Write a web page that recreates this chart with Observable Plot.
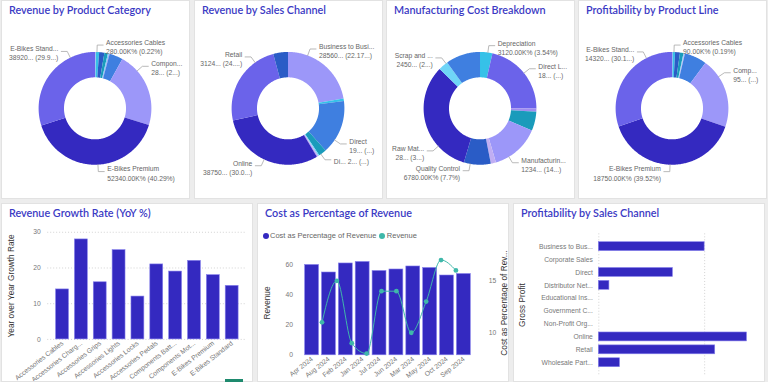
<!DOCTYPE html>
<html><head><meta charset="utf-8">
<script src="https://cdn.jsdelivr.net/npm/d3@7"></script>
<script src="https://cdn.jsdelivr.net/npm/@observablehq/plot@0.6"></script>
<style>
body{margin:0;width:768px;height:382px;background:#ededed;overflow:hidden;position:relative;font-family:"Liberation Sans",Arial,sans-serif}
.panel{position:absolute;background:#fff;border:1px solid #e2e2e2;box-sizing:border-box;overflow:hidden}
.panel svg{position:absolute;left:0;top:0}
.title{position:absolute;left:7px;top:2px;font-family:Lato,"Liberation Sans",sans-serif;font-size:10.8px;font-weight:600;color:#3b3ac4;white-space:nowrap;z-index:2;line-height:14px}
.ytitle{position:absolute;transform:translate(-50%,-50%) rotate(-90deg);font-size:8.3px;color:#333;white-space:nowrap;z-index:2}
.legend{position:absolute;font-size:7.5px;color:#666;white-space:nowrap;z-index:2;display:flex;align-items:center}
.legend i{display:inline-block;width:6px;height:6px;border-radius:50%;margin-right:1.5px}
</style></head><body>
<script>
// ---------- DATA ----------
const productCategories = ["Accessories Cables","Accessories Chargers","Accessories Grips","Accessories Lights","Accessories Locks","Accessories Pedals","Components Batteries","Components Motors","E-Bikes Premium","E-Bikes Standard"];
const productCategoryTicks = ["Accessories Cables","Accessories Charg...","Accessories Grips","Accessories Lights","Accessories Locks","Accessories Pedals","Components Batt...","Components Mot...","E-Bikes Premium","E-Bikes Standard"];
const revenueByCategory = [280,1250,1950,1300,400,250,5050,28250,52340,38920];
const profitByProductLine = [90,330,660,470,100,100,3030,9580,18750,14320];
const growthRateYoY = [14,28,16,25,12,21,19,22,18,15];

const salesChannels = ["Business to Business","Corporate Sales","Direct","Distributor Network","Educational Institutions","Government Contracts","Non-Profit Organizations","Online","Retail","Wholesale Partners"];
const salesChannelTicks = ["Business to Bus...","Corporate Sales","Direct","Distributor Net...","Educational Ins...","Government C...","Non-Profit Org...","Online","Retail","Wholesale Part..."];
const revenueByChannel = [28560,950,19950,2900,400,350,300,38750,31240,5420];
const grossProfitByChannel = [10000,0,7000,1000,0,0,0,14000,11000,2000];

const costCategories = ["Depreciation","Direct Labor","Energy","Equipment Maintenance","Manufacturing Overhead","Packaging","Quality Control","Raw Materials","Scrap and Waste","Utilities"];
const costValues = [3120,18900,850,4800,12340,1300,6780,28800,2450,8700];

const months = ["Apr 2024","Aug 2024","Feb 2024","Jan 2024","Jul 2024","Jun 2024","Mar 2024","May 2024","Oct 2024","Sep 2024"];
const costPctOfRevenue = [60,55,61,62,56,57,59,58,53,54];
const revenueSeries = [11,15,9,8,14,14,10,13,17,16];

// donut data labels (text as displayed)
const labelsCategory = [["Accessories Cables","Accessories Cables\n280.00K% (0.22%)"],["Components Motors","Compon...\n28... (2...)"],["E-Bikes Premium","E-Bikes Premium\n52340.00K% (40.29%)"],["E-Bikes Standard","E-Bikes Stand...\n38920... (29.9...)"]];
const labelsChannel = [["Business to Business","Business to Busi...\n28560... (22.17...)"],["Direct","Direct\n19... (...)"],["Distributor Network","Di... 2... (...)"],["Online","Online\n38750... (30.0...)"],["Retail","Retail\n3124... (24....)"]];
const labelsCost = [["Depreciation","Depreciation\n3120.00K% (3.54%)"],["Direct Labor","Direct L...\n18... (...)"],["Manufacturing Overhead","Manufacturin...\n1234... (14...)"],["Quality Control","Quality Control\n6780.00K% (7.7%)"],["Raw Materials","Raw Mat...\n28... (3...)"],["Scrap and Waste","Scrap and ...\n2450... (2...)"]];
const labelsProfit = [["Accessories Cables","Accessories Cables\n90.00K% (0.19%)"],["Components Motors","Comp...\n95... (...)"],["E-Bikes Premium","E-Bikes Premium\n18750.00K% (39.52%)"],["E-Bikes Standard","E-Bikes Stand...\n14320... (30.1...)"]];

// ---------- LAYOUT / STYLE ----------
const labelAngles = {
  cat: [2, 48.4, 177, 334],
  ch: [20.4, 124.2, 144.3, 205, 324.3],
  cost: [8, 51.3, 149.2, 190, 227.8, 322.8],
  prof: [2, 55.8, 182, 333]
};
const palette = ["#3429c0","#6b63ea","#9c97f9","#3f7fe0","#2a5cc6","#1a9bbb","#36c1e8","#6fd5f7","#c0aef3","#a08cf0"];
const barColor = "#3429c0", barStroke = "#8781ec", lineColor = "#3fb8aa";
const font = "'Liberation Sans', Arial, sans-serif";

function panel(left, top, w, h, title) {
  const p = document.createElement("div");
  p.className = "panel";
  Object.assign(p.style, {left: left + "px", top: top + "px", width: w + "px", height: h + "px"});
  const t = document.createElement("div");
  t.className = "title"; t.textContent = title;
  p.appendChild(t);
  document.body.appendChild(p);
  return p;
}
function ytitle(p, text, x, y) {
  const d = document.createElement("div");
  d.className = "ytitle"; d.textContent = text;
  d.style.left = x + "px"; d.style.top = y + "px";
  p.appendChild(d);
}

function donut(p, names, values, labels, angles, W, H) {
  const R = 57, r0 = 0.55, cx = 93.5, cy = 108;
  const order = d3.range(values.length).sort((a, b) => values[b] - values[a]);
  const colorOf = new Map(order.map((idx, k) => [idx, palette[k]]));
  const arcs = d3.pie().sort(null).value(d => d)(values);
  const pts = [];
  arcs.forEach((a, i) => {
    const n = Math.max(2, Math.ceil((a.endAngle - a.startAngle) / 0.015));
    for (let k = 0; k <= n; k++) { const t = a.startAngle + (a.endAngle - a.startAngle) * k / n; pts.push({key: i, color: colorOf.get(i), x: Math.sin(t), y: Math.cos(t)}); }
    for (let k = n; k >= 0; k--) { const t = a.startAngle + (a.endAngle - a.startAngle) * k / n; pts.push({key: i, color: colorOf.get(i), x: r0 * Math.sin(t), y: r0 * Math.cos(t)}); }
  });
  const leaders = [], texts = [];
  labels.forEach(([name, text], j) => {
    const th = angles[j] * Math.PI / 180;
    const side = angles[j] < 180 ? 1 : -1;
    const e = 64 / R;
    const ex = e * Math.sin(th), ey = e * Math.cos(th);
    leaders.push({key: j, x: Math.sin(th), y: Math.cos(th)});
    leaders.push({key: j, x: ex, y: ey});
    leaders.push({key: j, x: ex + side * 6 / R, y: ey});
    texts.push({side, text, x: ex + side * 9 / R, y: ey});
  });
  const svg = Plot.plot({
    width: W, height: H, margin: 0,
    style: {fontFamily: font, fontSize: "6.8px", background: "transparent", overflow: "visible"},
    x: {domain: [-cx / R, (W - cx) / R], axis: null},
    y: {domain: [-(H - cy) / R, cy / R], axis: null},
    color: {type: "identity"},
    marks: [
      Plot.line(pts, {x: "x", y: "y", z: "key", fill: "color", stroke: "none", curve: "linear-closed"}),
      Plot.line(leaders, {x: "x", y: "y", z: "key", stroke: "#a6a6a6", strokeWidth: 0.8}),
      Plot.text(texts.filter(d => d.side > 0), {x: "x", y: "y", text: "text", textAnchor: "start", fill: "#666", lineHeight: 1.35, dy: 1.5}),
      Plot.text(texts.filter(d => d.side < 0), {x: "x", y: "y", text: "text", textAnchor: "end", fill: "#666", lineHeight: 1.35, dy: 1.5})
    ]
  });
  p.appendChild(svg);
}

// ---------- TOP ROW: DONUTS ----------
const TW = 189, TH = 199;
donut(panel(1, 0, TW, TH, "Revenue by Product Category"), productCategories, revenueByCategory, labelsCategory, labelAngles.cat, TW, TH);
donut(panel(194, 0, TW, TH, "Revenue by Sales Channel"), salesChannels, revenueByChannel, labelsChannel, labelAngles.ch, TW, TH);
donut(panel(386, 0, TW, TH, "Manufacturing Cost Breakdown"), costCategories, costValues, labelsCost, labelAngles.cost, TW, TH);
donut(panel(578, 0, TW, TH, "Profitability by Product Line"), productCategories, profitByProductLine, labelsProfit, labelAngles.prof, TW, TH);

// ---------- BOTTOM ROW ----------
const BW = 252, BH = 179;

// Revenue Growth Rate
{
  const p = panel(1, 203, BW, BH, "Revenue Growth Rate (YoY %)");
  const data = productCategories.map((c, i) => ({c, v: growthRateYoY[i]}));
  const svg = Plot.plot({
    width: BW, height: BH, marginLeft: 45.6, marginRight: 6, marginTop: 28, marginBottom: 43,
    style: {fontFamily: font, fontSize: "6.8px", color: "#777", background: "transparent", overflow: "visible"},
    x: {domain: productCategories, padding: 0.33, tickFormat: d => productCategoryTicks[productCategories.indexOf(d)], tickRotate: -38, tickSize: 0, tickPadding: 3, label: null},
    y: {domain: [0, 30], ticks: [0, 10, 20, 30], tickSize: 0, tickPadding: 7, label: null},
    marks: [
      Plot.ruleY([0, 10, 20, 30], {stroke: "#c8c8c8", strokeDasharray: "1,2", strokeWidth: 0.8}),
      Plot.barY(data, {x: "c", y: "v", fill: barColor, stroke: barStroke, strokeWidth: 0.6})
    ]
  });
  p.appendChild(svg);
  ytitle(p, "Year over Year Growth Rate", 9, 82);
}

// Cost as Percentage of Revenue
{
  const p = panel(257, 203, BW, BH, "Cost as Percentage of Revenue");
  const mL = 43.9, mR = 33.7, mT = 52, mB = 27, pad = 0.16;
  const bars = months.map((m, i) => ({m, v: costPctOfRevenue[i]}));
  const line = months.map((m, i) => ({m, v: revenueSeries[i]}));
  const step = (BW - mL - mR) / (months.length + pad);
  const c0 = mL + step * (pad + (1 - pad) / 2), c1 = c0 + step * (months.length - 1);
  const style = {fontFamily: font, fontSize: "6.8px", color: "#777", background: "transparent", overflow: "visible"};
  const svg1 = Plot.plot({
    width: BW, height: BH, marginLeft: mL, marginRight: mR, marginTop: mT, marginBottom: mB, style,
    x: {domain: months, padding: pad, tickRotate: -38, tickSize: 0, tickPadding: 3, label: null},
    y: {domain: [0, 65.9], ticks: [0, 20, 40, 60], tickSize: 0, tickPadding: 9, label: null},
    marks: [Plot.barY(bars, {x: "m", y: "v", fill: barColor, stroke: barStroke, strokeWidth: 0.6})]
  });
  const svg2 = Plot.plot({
    width: BW, height: BH, marginLeft: mL, marginRight: mR, marginTop: mT, marginBottom: mB, style,
    x: {type: "point", domain: months, range: [c0, c1], axis: null},
    y: {domain: [7.83, 17.38], ticks: [10, 15], axis: "right", tickSize: 0, tickPadding: 13.7, label: null},
    marks: [
      Plot.line(line, {x: "m", y: "v", stroke: lineColor, strokeWidth: 1, curve: "monotone-x"}),
      Plot.dot(line, {x: "m", y: "v", r: 2.4, fill: lineColor})
    ]
  });
  p.appendChild(svg1); p.appendChild(svg2);
  const lg = document.createElement("div");
  lg.className = "legend"; lg.style.left = "4.5px"; lg.style.top = "27px";
  lg.innerHTML = `<i style="background:${barColor}"></i><span>Cost as Percentage of Revenue</span><i style="background:${lineColor};margin-left:3px"></i><span>Revenue</span>`;
  p.appendChild(lg);
  ytitle(p, "Revenue", 9, 99);
  ytitle(p, "Cost as Percentage of Rev...", 245.7, 98.5);
}

// Profitability by Sales Channel
{
  const p = panel(513, 203, BW, BH, "Profitability by Sales Channel");
  const data = salesChannels.map((c, i) => ({c, v: grossProfitByChannel[i]})).filter(d => d.v > 0);
  const svg = Plot.plot({
    width: BW, height: BH, marginLeft: 85, marginRight: 7, marginTop: 29.6, marginBottom: 7,
    style: {fontFamily: font, fontSize: "6.8px", color: "#777", background: "transparent", overflow: "visible"},
    x: {domain: [0, 15000], axis: null},
    y: {domain: salesChannels, padding: 0.32, tickFormat: d => salesChannelTicks[salesChannels.indexOf(d)], tickSize: 0, tickPadding: 6, label: null},
    marks: [
      Plot.ruleX([0, 10000], {stroke: "#c8c8c8", strokeDasharray: "1,2", strokeWidth: 0.8}),
      Plot.barX(data, {y: "c", x: "v", fill: barColor, stroke: barStroke, strokeWidth: 0.6})
    ]
  });
  p.appendChild(svg);
  ytitle(p, "Gross Profit", 8, 101);
}

// small tab marker at bottom
{
  const g = document.createElement("div");
  Object.assign(g.style, {position: "absolute", left: "225px", top: "379px", width: "18px", height: "3px", background: "#1e8a6e", zIndex: 3});
  document.body.appendChild(g);
}
</script>
</body></html>
